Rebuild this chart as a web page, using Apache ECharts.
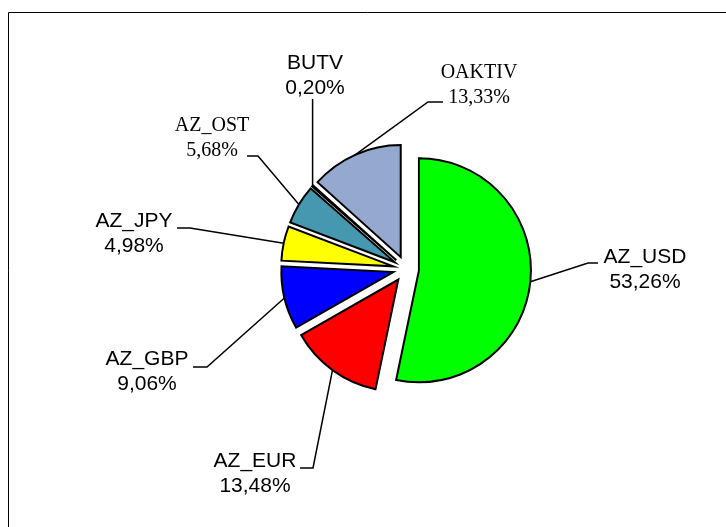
<!DOCTYPE html>
<html>
<head>
<meta charset="utf-8">
<script src="https://cdn.jsdelivr.net/npm/echarts@6/dist/echarts.min.js"></script>
<style>
  html, body { margin: 0; background: #fff; }
  #chart { width: 726px; height: 527px; }
</style>
</head>
<body>
<div id="chart"></div>
<script>
// data (clockwise from 12 o'clock)
const categories = ['AZ_USD', 'AZ_EUR', 'AZ_GBP', 'AZ_JPY', 'AZ_OST', 'BUTV', 'OAKTIV']
const shares = [53.26, 13.48, 9.06, 4.98, 5.68, 0.20, 13.33]

// layout / styling
const sliceColors = ['#00FF00', '#FF0000', '#0000FF', '#FFFF00', '#4598B0', '#CCFFFF', '#95A8D0']
const serifLabels = ['AZ_OST', 'OAKTIV']
const labelCenter = [[645, 270], [255, 474], [147, 372], [134, 234], [212, 138], [315, 76], [479, 85]]
// [tailX, tailY, elbowX]; null tail = straight vertical leader
const leaderTail = [[598, 263, 588], [300, 468, 313], [193, 367, 207], [177, 228, 190], [247, 156, 258], [null, 99, null], [443, 102, 428]]
const pieCenter = [406, 269]
const explode = 13
const radius = 112

const total = shares.reduce((a, b) => a + b, 0)
let acc = 0
const midAngles = shares.map(v => {
  const m = (acc + v / 2) / total * 2 * Math.PI
  acc += v
  return m
})

const fmt = (p) => p.name + '\n' + p.value.toFixed(2).replace('.', ',') + '%'

// one series per slice so every slice gets its own explosion offset
const series = categories.map((name, i) => ({
  type: 'pie',
  center: [pieCenter[0] + explode * Math.sin(midAngles[i]), pieCenter[1] - explode * Math.cos(midAngles[i])],
  radius: radius,
  startAngle: 90,
  clockwise: true,
  avoidLabelOverlap: false,
  animation: false,
  silent: true,
  emphasis: { disabled: true },
  data: categories.map((n, j) => {
    if (j !== i) {
      return {
        name: n, value: shares[j],
        itemStyle: { color: 'transparent', borderWidth: 0 },
        label: { show: false },
        labelLine: { show: false }
      }
    }
    const serif = serifLabels.indexOf(n) >= 0
    return {
      name: n, value: shares[j],
      itemStyle: { color: sliceColors[j], borderColor: '#000', borderWidth: 2, borderJoin: 'miter' },
      label: {
        show: true,
        position: 'outside',
        formatter: fmt,
        color: '#000',
        fontFamily: serif ? "'Liberation Serif', 'Times New Roman', serif" : "'Liberation Sans', Arial, sans-serif",
        fontSize: serif ? 20 : 21,
        lineHeight: 25,
        align: 'center'
      },
      labelLine: { show: true, smooth: false, lineStyle: { color: '#000', width: 1.5 } }
    }
  }),
  labelLayout: function (p) {
    if (p.dataIndex !== i || !p.labelLinePoints) return {}
    const start = p.labelLinePoints[0]
    const t = leaderTail[i]
    let pts
    if (t[0] === null) {
      pts = [start, [start[0], t[1]], [start[0], t[1]]]
    } else {
      pts = [start, [t[2], t[1]], [t[0], t[1]]]
    }
    return {
      x: labelCenter[i][0],
      y: labelCenter[i][1],
      align: 'center',
      verticalAlign: 'middle',
      labelLinePoints: pts
    }
  }
}))

const myChart = echarts.init(document.getElementById('chart'))
myChart.setOption({
  backgroundColor: '#fff',
  animation: false,
  graphic: [{
    type: 'rect',
    shape: { x: 8.5, y: 12.5, width: 740, height: 540 },
    style: { fill: 'none', stroke: '#000', lineWidth: 1 },
    silent: true
  }],
  series: series
})
</script>
</body>
</html>
